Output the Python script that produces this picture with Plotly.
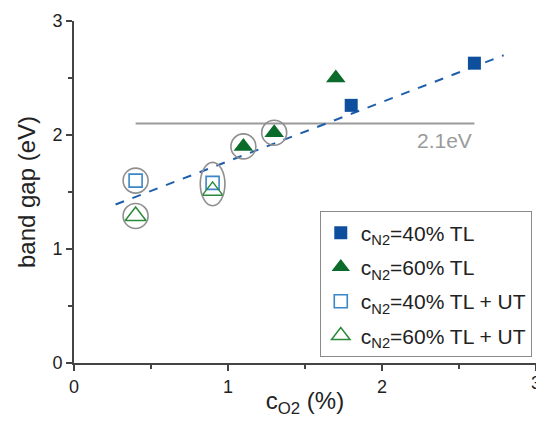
import plotly.graph_objects as go

# Data
tl40_x = [1.8, 2.6]
tl40_y = [2.26, 2.63]
tl60_x = [1.1, 1.3, 1.7]
tl60_y = [1.90, 2.02, 2.50]
ut40_x = [0.4, 0.9]
ut40_y = [1.60, 1.58]
ut60_x = [0.4, 0.9]
ut60_y = [1.29, 1.51]
fit_x = [0.27, 2.79]
fit_y = [1.39, 2.70]
ref_x = [0.4, 2.6]
ref_y = [2.1, 2.1]
ref_label = "2.1eV"
circled_x = [0.4, 0.4, 1.1, 1.3]
circled_y = [1.60, 1.29, 1.90, 2.02]
ellipse_x = [0.9]
ellipse_y = [1.57]
x_ticks = [0, 1, 2, 3]
y_ticks = [0, 1, 2, 3]

FONT = "Liberation Sans, Arial, sans-serif"
GRAY = "#9a9a9a"

fig = go.Figure()

# gray horizontal reference line
fig.add_trace(go.Scatter(x=ref_x, y=ref_y, mode="lines",
                         line=dict(color=GRAY, width=2), showlegend=False, hoverinfo="skip"))
# dashed fit line
fig.add_trace(go.Scatter(x=fit_x, y=fit_y, mode="lines",
                         line=dict(color="#1f5eab", width=2, dash="dash"), showlegend=False, hoverinfo="skip"))
# gray circles
fig.add_trace(go.Scatter(x=circled_x, y=circled_y, mode="markers",
                         marker=dict(symbol="circle-open", size=25, color="#8f8f8f", line=dict(width=1.6)),
                         showlegend=False, hoverinfo="skip"))

fig.add_trace(go.Scatter(x=tl40_x, y=tl40_y, mode="markers", name="c<sub>N2</sub>=40% TL",
                         legendgroup="a",
                         marker=dict(symbol="square", size=13, color="#0d4f9c")))
fig.add_trace(go.Scatter(x=tl60_x, y=tl60_y, mode="markers", name="c<sub>N2</sub>=60% TL",
                         legendgroup="b",
                         marker=dict(symbol="triangle-up", size=17, color="#0a6b2a")))
fig.add_trace(go.Scatter(x=ut40_x, y=ut40_y, mode="markers", name="c<sub>N2</sub>=40% TL + UT",
                         legendgroup="c",
                         marker=dict(symbol="square-open", size=13, color="#3a86c8", line=dict(width=1.6))))
fig.add_trace(go.Scatter(x=ut60_x, y=ut60_y, mode="markers", name="c<sub>N2</sub>=60% TL + UT",
                         legendgroup="d",
                         marker=dict(symbol="triangle-up-open", size=18, color="#2a8a3a", line=dict(width=1.5))))

# ellipse around the pair at 0.9
for ex, ey in zip(ellipse_x, ellipse_y):
    fig.add_shape(type="circle", xref="x", yref="y",
                  x0=ex - 0.08, x1=ex + 0.08, y0=ey - 0.19, y1=ey + 0.19,
                  line=dict(color="#8f8f8f", width=1.6))

fig.add_annotation(x=ref_x[1], y=ref_y[0], text=ref_label, showarrow=False,
                   xanchor="right", yanchor="top", yshift=-3, xshift=0,
                   font=dict(family=FONT, size=21, color=GRAY))

# last x tick label sits on the page edge; Plotly drops edge labels,
# so it is drawn as an annotation at that tick
fig.add_annotation(x=x_ticks[-1], y=y_ticks[0], text=str(x_ticks[-1]), showarrow=False,
                   xanchor="center", yanchor="top", yshift=-8,
                   font=dict(family=FONT, size=18, color="#222"))

# page body adds an 8px offset; size chosen so the page does not overflow the window
fig.update_layout(
    width=528, height=410,
    margin=dict(l=66, r=0, t=13, b=55, autoexpand=False),
    paper_bgcolor="white", plot_bgcolor="white",
    font=dict(family=FONT, size=18, color="#222"),
    legend=dict(x=0.532, y=0.443, xanchor="left", yanchor="top",
                bordercolor="#8a8a8a", borderwidth=1, bgcolor="white",
                font=dict(family=FONT, size=21, color="#222"),
                itemwidth=30, tracegroupgap=4),
    xaxis=dict(range=[0, 3], tickmode="array", tickvals=x_ticks,
               ticktext=[str(v) for v in x_ticks[:-1]] + [""],
               showline=True, linecolor="#444", linewidth=2,
               ticks="outside", ticklen=6, tickwidth=2, tickcolor="#444",
               minor=dict(dtick=0.5, ticks="outside", ticklen=4, tickwidth=2, tickcolor="#444"),
               showgrid=False, zeroline=False, automargin=False,
               tickfont=dict(size=18, color="#222"),
               title=dict(text="c<sub>O2</sub> (%)", font=dict(size=24, color="#222"), standoff=10)),
    yaxis=dict(range=[0, 3], tickmode="array", tickvals=y_ticks,
               showline=True, linecolor="#444", linewidth=2,
               ticks="outside", ticklen=6, tickwidth=2, tickcolor="#444",
               minor=dict(dtick=0.5, ticks="outside", ticklen=4, tickwidth=2, tickcolor="#444"),
               showgrid=False, zeroline=False, automargin=False,
               tickfont=dict(size=18, color="#222"),
               title=dict(text="band gap (eV)", font=dict(size=24, color="#222"), standoff=10)),
)

fig.write_html("out.html")
